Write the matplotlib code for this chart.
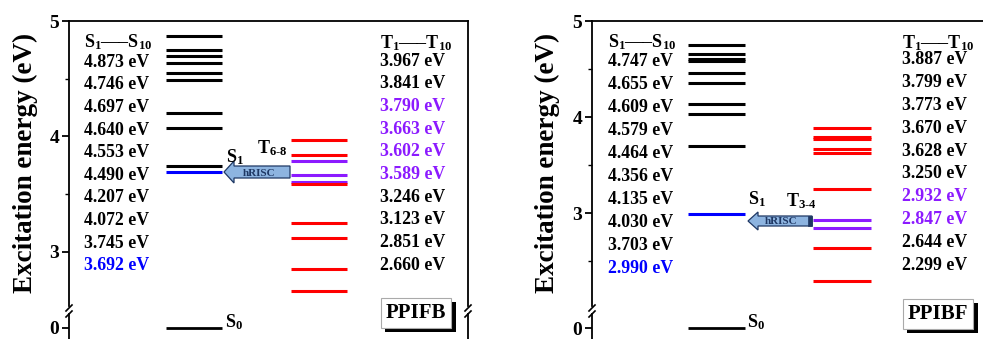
import matplotlib
matplotlib.use('Agg')
import matplotlib.pyplot as plt
import matplotlib.transforms as mtransforms
from matplotlib.patches import Polygon
from matplotlib.lines import Line2D
import matplotlib.patheffects as pe

# ---------------- data ----------------
panel_names = ["PPIFB", "PPIBF"]
singlets_PPIFB = [4.873, 4.746, 4.697, 4.640, 4.553, 4.490, 4.207, 4.072, 3.745, 3.692]
triplets_PPIFB = [3.967, 3.841, 3.790, 3.663, 3.602, 3.589, 3.246, 3.123, 2.851, 2.660]
singlets_PPIBF = [4.747, 4.655, 4.609, 4.579, 4.464, 4.356, 4.135, 4.030, 3.703, 2.990]
triplets_PPIBF = [3.887, 3.799, 3.773, 3.670, 3.628, 3.250, 2.932, 2.847, 2.644, 2.299]
ground_state = 0.0
hrisc_lines_PPIFB = [3.790, 3.663, 3.602]          # T6-8
purple_text_PPIFB = [3.790, 3.663, 3.602, 3.589]
hrisc_lines_PPIBF = [2.932, 2.847]                 # T3-4
purple_text_PPIBF = [2.932, 2.847]
hrisc_state_labels = ["6-8", "3-4"]
yticks_upper = [3, 4, 5]
yticks_lower = [0]

# ---------------- style ----------------
W, H, DPI = 983, 339, 100
plt.rcParams['font.family'] = ['Liberation Serif', 'DejaVu Serif']
plt.rcParams['font.weight'] = 'bold'
plt.rcParams['mathtext.fontset'] = 'custom'
plt.rcParams['mathtext.rm'] = 'Liberation Serif:bold'
plt.rcParams['mathtext.it'] = 'Liberation Serif:bold'
plt.rcParams['mathtext.bf'] = 'Liberation Serif:bold'

BLUE = '#0000ff'
RED = '#ff0000'
PURPLE = '#8c1aff'
BLACK = '#000000'

fig = plt.figure(figsize=(W / DPI, H / DPI), dpi=DPI)
PX = mtransforms.Affine2D().scale(1 / DPI, -1 / DPI).translate(0, H / DPI) + fig.dpi_scale_trans


def fx(x):
    return x / W


def fy(y):
    return 1 - y / H


def add_axes_px(x0, x1, ytop, ybot):
    return fig.add_axes([fx(x0), fy(ybot), (x1 - x0) / W, (ybot - ytop) / H])


def sub_label(x, y, main, sub, size=13, subsize=8.5):
    """Draw a letter with a plain-text subscript (pixel coords, y from top)."""
    t = fig.text(fx(x), fy(y), main, fontsize=size, ha='left', va='baseline')
    fig.canvas.draw() if False else None
    return t


panels = [
    dict(name=panel_names[0], S=singlets_PPIFB, T=triplets_PPIFB, hl=hrisc_lines_PPIFB,
         pt=purple_text_PPIFB, lab=hrisc_state_labels[0],
         x0=69, x1=468, up=(2.530, 5.0), low=(-0.1478, 0.1217),
         sx=(0.243, 0.383), tx=(0.556, 0.697),
         scol=84, tcol=380, s_y0=62.3, s_dy=22.6, t_y0=61.0, t_dy=22.67,
         ylab_x=25, box=(416, 313),
         arrow=dict(tip=(224, 172), tail=290, sh=6, hh=11, hl=10, band=False),
         hr_txt=(259, 173), S1=(226, 157), Tl=(257, 148), S0=(225, 322), break_x=[69, 468]),
    dict(name=panel_names[1], S=singlets_PPIBF, T=triplets_PPIBF, hl=hrisc_lines_PPIBF,
         pt=purple_text_PPIBF, lab=hrisc_state_labels[1],
         x0=592, x1=992, up=(2.037, 5.0), low=(-0.177, 0.146),
         sx=(0.24, 0.3825), tx=(0.5525, 0.6975),
         scol=608, tcol=902, s_y0=61.7, s_dy=22.96, t_y0=60.0, t_dy=22.8,
         ylab_x=547, box=(938, 314),
         arrow=dict(tip=(748, 221), tail=812, sh=5, hh=9, hl=10, band=True),
         hr_txt=(781, 221), S1=(748, 199), Tl=(786, 201), S0=(747, 322), break_x=[592]),
]

for p in panels:
    axu = add_axes_px(p['x0'], p['x1'], 21, 306)
    axl = add_axes_px(p['x0'], p['x1'], 314, 345)
    axu.set_ylim(*p['up'])
    axl.set_ylim(*p['low'])
    for a in (axu, axl):
        a.set_xlim(0, 1)
        a.set_xticks([])
        for s in a.spines.values():
            s.set_linewidth(1.3)
        a.tick_params(axis='y', which='major', direction='out', length=5, width=1.3,
                      labelsize=14, pad=2)
        a.tick_params(axis='y', which='minor', direction='out', length=3, width=1.0)
        a.patch.set_alpha(0)
    axu.spines['bottom'].set_visible(False)
    axl.spines['top'].set_visible(False)
    axu.set_yticks(yticks_upper)
    axu.set_yticks([t + 0.5 for t in range(2, 5) if p['up'][0] <= t + 0.5 <= 5], minor=True)
    axl.set_yticks(yticks_lower)
    for lbl in axu.get_yticklabels() + axl.get_yticklabels():
        lbl.set_fontweight('bold')

    # singlet levels
    for e in p['S']:
        c = BLUE if e == p['S'][-1] else BLACK
        axu.axhline(e, p['sx'][0], p['sx'][1], color=c, lw=2.2, solid_capstyle='butt')
    # triplet levels
    for e in p['T']:
        c = PURPLE if e in p['hl'] else RED
        axu.axhline(e, p['tx'][0], p['tx'][1], color=c, lw=2.2, solid_capstyle='butt')
    # ground state
    axl.axhline(ground_state, p['sx'][0], p['sx'][1], color=BLACK, lw=2.0, solid_capstyle='butt')

    # text columns
    fig.text(fx(p['scol']), fy(41.7), "S$_1$—–S$_{10}$", fontsize=13, ha='left', va='center')
    for i, e in enumerate(p['S']):
        c = BLUE if e == p['S'][-1] else BLACK
        fig.text(fx(p['scol']), fy(p['s_y0'] + i * p['s_dy']), f"{e:.3f} eV", fontsize=12.8,
                 color=c, ha='left', va='center')
    fig.text(fx(p['tcol']), fy(43.3), "T$_1$—–T$_{10}$", fontsize=13, ha='left', va='center')
    for i, e in enumerate(p['T']):
        c = PURPLE if e in p['pt'] else BLACK
        fig.text(fx(p['tcol']), fy(p['t_y0'] + i * p['t_dy']), f"{e:.3f} eV", fontsize=12.8,
                 color=c, ha='left', va='center')

    # y label
    fig.text(fx(p['ylab_x']), fy(163), "Excitation energy (eV)", rotation=90, fontsize=19.5,
             ha='center', va='center')

    # arrow
    ar = p['arrow']
    tx_, ty_ = ar['tip']
    pts = [(tx_, ty_), (tx_ + ar['hl'], ty_ - ar['hh']), (tx_ + ar['hl'], ty_ - ar['sh']),
           (ar['tail'], ty_ - ar['sh']), (ar['tail'], ty_ + ar['sh']),
           (tx_ + ar['hl'], ty_ + ar['sh']), (tx_ + ar['hl'], ty_ + ar['hh'])]
    fig.add_artist(Polygon(pts, closed=True, transform=PX, fc='#8db4e0', ec='#1f3864', lw=0.9))
    if ar['band']:
        fig.add_artist(Polygon([(ar['tail'] - 4, ty_ - ar['sh']), (ar['tail'], ty_ - ar['sh']),
                                (ar['tail'], ty_ + ar['sh']), (ar['tail'] - 4, ty_ + ar['sh'])],
                               closed=True, transform=PX, fc='#1f3864', ec='#1f3864', lw=0.5))
    fig.text(fx(p['hr_txt'][0]), fy(p['hr_txt'][1]), "hRISC", fontsize=8, color='#1f3864',
             ha='center', va='center')
    fig.text(fx(p['S1'][0]), fy(p['S1'][1]), "S$_1$", fontsize=13, ha='left', va='center')
    fig.text(fx(p['Tl'][0]), fy(p['Tl'][1]), r"T$_{\text{" + p['lab'] + "}}$", fontsize=13,
             ha='left', va='center')
    fig.text(fx(p['S0'][0]), fy(p['S0'][1]), "S$_0$", fontsize=13, ha='left', va='center')

    # name box
    t = fig.text(fx(p['box'][0]), fy(p['box'][1]), p['name'], fontsize=15, ha='center', va='center',
                 bbox=dict(boxstyle='square,pad=0.25', fc='white', ec='#aaaaaa', lw=0.8))
    t.get_bbox_patch().set_path_effects([
        pe.SimplePatchShadow(offset=(3, -3), shadow_rgbFace='k', alpha=1.0), pe.Normal()])

    # break marks
    for bx in p['break_x']:
        for yy in (308, 314):
            fig.add_artist(Line2D([bx - 3, bx + 3], [yy + 3, yy - 3], transform=PX,
                                  color='k', lw=1.2))

fig.savefig('out.png', dpi=DPI)
